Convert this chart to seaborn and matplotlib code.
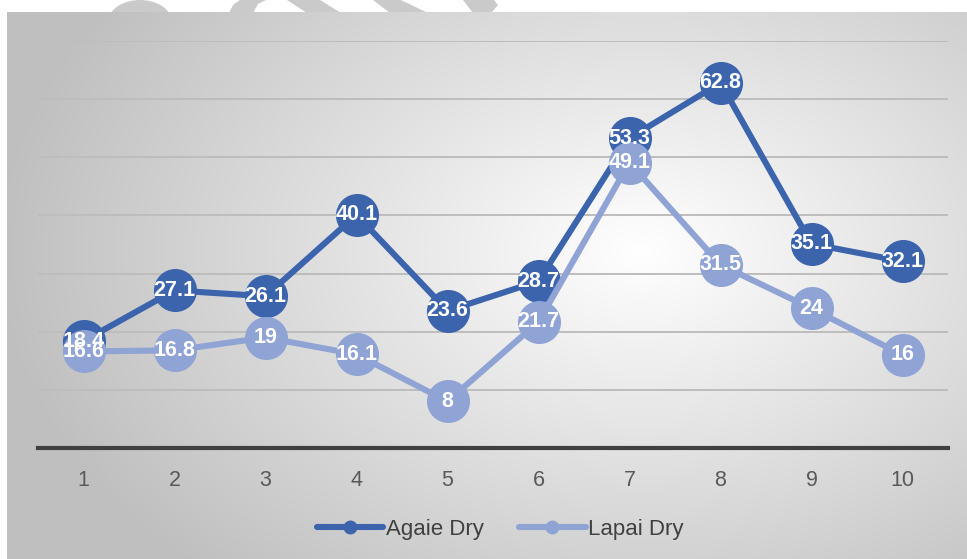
import numpy as np
import pandas as pd
import matplotlib
matplotlib.use("Agg")
import matplotlib.pyplot as plt
import seaborn as sns
from matplotlib.lines import Line2D
from matplotlib.patches import Polygon, Ellipse

categories = ["1", "2", "3", "4", "5", "6", "7", "8", "9", "10"]
agaie_dry = [18.4, 27.1, 26.1, 40.1, 23.6, 28.7, 53.3, 62.8, 35.1, 32.1]
lapai_dry = [16.6, 16.8, 19, 16.1, 8, 21.7, 49.1, 31.5, 24, 16]
series_names = ["Agaie Dry", "Lapai Dry"]
colors = ["#3b64ad", "#8fa3d5"]

sns.set_theme(style="white")
plt.rcParams['font.family'] = ['Liberation Sans', 'DejaVu Sans']

W, H = 967, 559
fig = plt.figure(figsize=(W / 100, H / 100), dpi=100)
fig.patch.set_facecolor("white")

# faint watermark fragments peeking above the chart frame
wm = fig.add_axes([0, 0, 1, 1], zorder=-1)
wm.set_xlim(0, W)
wm.set_ylim(H, 0)
wm.set_axis_off()
wm_col = "#cacaca"
wm.add_patch(Ellipse((140, 22), 64, 44, color=wm_col, lw=0))
wm.add_patch(Polygon([(229, 13), (233, 5), (240, 0), (266, 0), (258, 4), (253, 13)], color=wm_col, lw=0))
wm.add_patch(Polygon([(287, 0), (320, 0), (341, 13), (307, 13)], color=wm_col, lw=0))
wm.add_patch(Polygon([(373, 0), (401, 0), (428, 13), (390, 13)], color=wm_col, lw=0))
wm.add_patch(Polygon([(463, 0), (494, 0), (498, 5), (491, 13), (473, 13)], color=wm_col, lw=0))

# gradient background
bg = fig.add_axes([7 / W, 0, (W - 7) / W, (H - 12) / H], zorder=0)
ny, nx = 300, 500
yy, xx = np.mgrid[0:ny, 0:nx]
px = xx / nx * (W - 7) + 7
py = yy / ny * (H - 12) + 12
cx, cy = 640, 250
d = np.sqrt(((px - cx) / 620) ** 2 + ((py - cy) / 420) ** 2)
val = 1.0 - 0.24 * np.clip(d, 0, 1.2)
val = np.clip(val, 0.75, 1.0)
img = np.dstack([val, val, val])
bg.imshow(img, aspect="auto", extent=[0, 1, 0, 1], origin="upper")
bg.set_axis_off()

ax = fig.add_axes([38 / W, 1 - 448 / H, 910 / W, (448 - 41) / H], zorder=1)
ax.patch.set_alpha(0)

df = pd.DataFrame({
    "pos": list(range(len(categories))) * 2,
    "value": agaie_dry + lapai_dry,
    "series": [series_names[0]] * len(categories) + [series_names[1]] * len(categories),
})

sns.lineplot(data=df, x="pos", y="value", hue="series", palette=colors,
             marker="o", markersize=31, linewidth=4.4, markeredgewidth=0,
             ax=ax, legend=False, sort=False)

for vals in (agaie_dry, lapai_dry):
    for i, v in enumerate(vals):
        ax.text(i, v, f"{v:g}", ha="center", va="center", color="white",
                fontsize=15.5, fontweight="bold", zorder=5)

ax.set_xlim(-0.5, len(categories) - 0.5)
ax.set_ylim(0, 70)
ax.set_yticks(np.arange(10, 71, 10))
ax.yaxis.grid(True, color="#bdbdbd", linewidth=1.4)
ax.set_axisbelow(True)
ax.tick_params(axis="y", left=False, labelleft=False)
ax.set_xticks(range(len(categories)))
ax.set_xticklabels(categories, fontsize=15.5, color="#595959")
ax.tick_params(axis="x", bottom=False, pad=10)
ax.set_xlabel("")
ax.set_ylabel("")
for s in ["top", "right", "left"]:
    ax.spines[s].set_visible(False)
ax.spines["bottom"].set_color("#404040")
ax.spines["bottom"].set_linewidth(3)

handles = [Line2D([0], [0], color=c, lw=4.4, marker="o", markersize=9) for c in colors]
fig.legend(handles, series_names, loc="center", bbox_to_anchor=(500 / W, 1 - 529 / H),
           ncol=2, frameon=False, fontsize=16, handlelength=3.0, handletextpad=0.1,
           columnspacing=1.6, labelcolor="#404040")

fig.savefig("out.png", dpi=100)
